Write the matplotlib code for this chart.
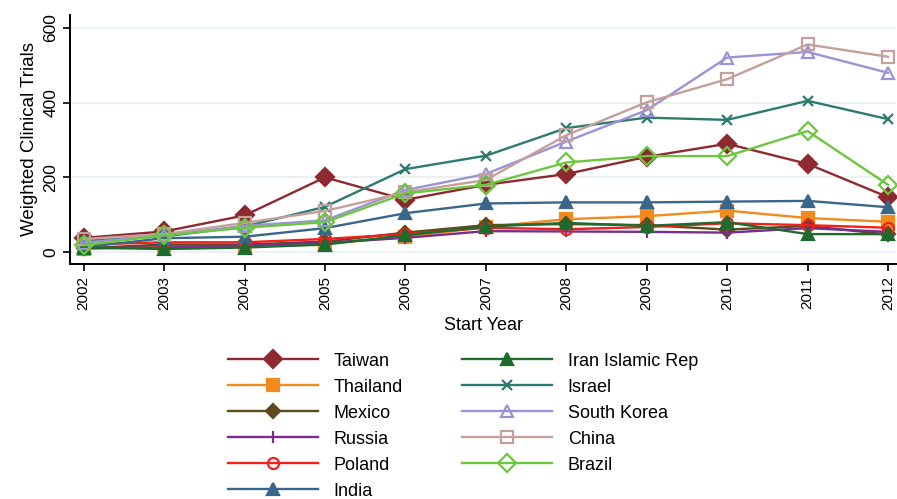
import numpy as np
import matplotlib
matplotlib.use("Agg")
import matplotlib.pyplot as plt

plt.rcParams['font.family'] = ['Liberation Sans', 'DejaVu Sans']

years = [2002, 2003, 2004, 2005, 2006, 2007, 2008, 2009, 2010, 2011, 2012]

taiwan = [38, 55, 98, 200, 140, 180, 209, 255, 290, 236, 147]
thailand = [8, 18, 14, 22, 40, 67, 88, 96, 111, 91, 81]
mexico = [10, 20, 20, 28, 52, 72, 75, 72, 60, 70, 47]
russia = [10, 12, 18, 25, 38, 56, 55, 54, 52, 64, 54]
poland = [20, 26, 26, 35, 48, 65, 61, 67, 77, 72, 65]
india = [13, 37, 41, 64, 104, 130, 133, 133, 135, 137, 120]
iran = [12, 8, 12, 20, 45, 68, 78, 70, 80, 48, 48]
israel = [30, 42, 68, 121, 222, 258, 332, 360, 354, 405, 356]
south_korea = [25, 45, 70, 85, 166, 209, 296, 380, 521, 536, 480]
china = [35, 48, 78, 110, 160, 193, 313, 401, 463, 556, 523]
brazil = [18, 45, 65, 80, 157, 180, 240, 257, 257, 324, 180]

series = [
    ("Taiwan", taiwan, "#8E2A2F", "D", True, 9),
    ("Thailand", thailand, "#F28A1E", "s", True, 8),
    ("Mexico", mexico, "#5E4A1A", "D", True, 7),
    ("Russia", russia, "#7B2D8E", "|", True, 8),
    ("Poland", poland, "#F0201A", "o", False, 8),
    ("India", india, "#3A6689", "^", True, 9),
    ("Iran Islamic Rep", iran, "#1E6B30", "^", True, 8),
    ("Israel", israel, "#2D7A6E", "x", True, 7),
    ("South Korea", south_korea, "#9C92D6", "^", False, 9),
    ("China", china, "#C4A09C", "s", False, 9),
    ("Brazil", brazil, "#6DC63F", "D", False, 9),
]

fig = plt.figure(figsize=(8.97, 4.99), dpi=100)
ax = fig.add_axes([0.078, 0.471, 0.921, 0.499])

for name, vals, col, mk, filled, ms in series:
    ax.plot(years, vals, color=col, lw=1.7, marker=mk, ms=ms,
            markerfacecolor=col if filled else 'none',
            markeredgecolor=col, markeredgewidth=1.6, label=name)

ax.set_xlim(2001.83, 2012.1)
ax.set_ylim(-32, 635)
ax.set_yticks([0, 200, 400, 600])
ax.set_xticks(years)
ax.set_xticklabels([str(y) for y in years], rotation=90)
ax.tick_params(axis='y', labelrotation=90, labelsize=12.5, length=5, width=1.2)
ax.tick_params(axis='x', labelsize=11, length=5, width=1.2)
for lbl in ax.get_yticklabels():
    lbl.set_va('center')
ax.grid(axis='y', color='#E6F0F2', lw=1.2)
ax.set_axisbelow(True)
for s in ['top', 'right']:
    ax.spines[s].set_visible(False)
for s in ['left', 'bottom']:
    ax.spines[s].set_linewidth(1.4)

ax.set_xlabel("Start Year", fontsize=13, labelpad=5)
ax.set_ylabel("Weighted Clinical Trials", fontsize=13.5, labelpad=4)

fig.legend(loc='upper center', bbox_to_anchor=(0.516, 0.308), ncol=2,
           frameon=False, fontsize=13, handlelength=5.0, handletextpad=0.85,
           labelspacing=0.5, columnspacing=3.3, borderaxespad=0)

fig.savefig("out.png", dpi=100)
